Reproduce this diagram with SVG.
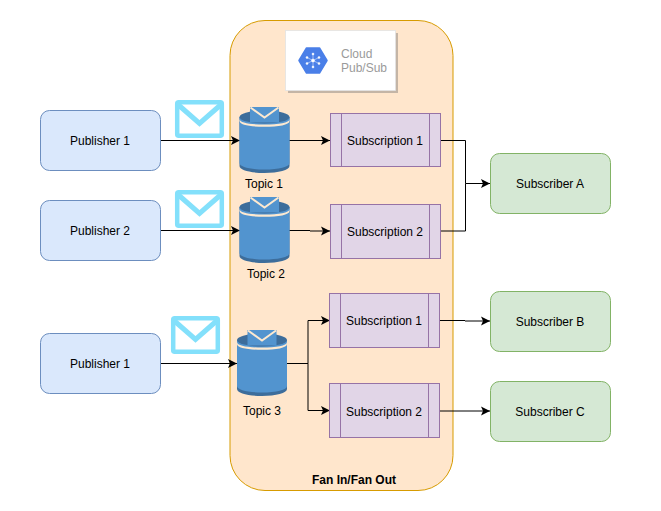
<svg xmlns="http://www.w3.org/2000/svg" width="661" height="511" viewBox="0 0 661 511">
<style>
text{font-family:"Liberation Sans",Arial,sans-serif;font-size:12px;fill:#000;text-anchor:middle}
.pub{fill:#dae8fc;stroke:#6c8ebf}
.sub{fill:#e1d5e7;stroke:#9673a6}
.rcv{fill:#d5e8d4;stroke:#82b366}
.c{fill:none;stroke:#000;stroke-width:1}
.mailbg{fill:#fff;stroke:#83e0fb;stroke-width:4.500}
.mailv{fill:none;stroke:#83e0fb;stroke-width:5}
</style>
<defs>
<marker id="a" markerUnits="userSpaceOnUse" markerWidth="12" markerHeight="12" refX="10" refY="6" orient="auto"><path d="M1 1.500L10 6L1 10.500L3 6Z" fill="#000"/></marker>
<g id="mail"><rect x="2.200" y="2.200" width="44.600" height="33.600" rx="1.500" class="mailbg"/><path d="M3.500 5L24.500 23.500L45.500 5" class="mailv"/></g>
<g id="cyl">
<path d="M0 10V59C0 63 11 66 25 66S50 63 50 59V10Z" fill="#3d6d9b"/>
<path d="M0 10V56C0 60 11 62.500 25 62.500S50 60 50 56V10Z" fill="#5294cf"/>
<ellipse cx="25" cy="10" rx="25" ry="6.500" fill="#3d6d9b"/>
<path d="M0 12C0 16 11 17.500 25 17.500S50 16 50 12V14C50 18 39 19.800 25 19.800S0 18 0 14Z" fill="#fde9d0"/>
<path d="M10.500 0H39.500L39.500 15.500H10.500Z" fill="#5294cf"/>
<path d="M11 0.500L25 10.500L39 0.500" fill="none" stroke="#fde9d0" stroke-width="2"/>
</g>
</defs>
<g id="container"><rect x="230" y="20.500" width="223" height="470" rx="35" fill="#ffe6cc" stroke="#d79b00"/><text x="354" y="484" style="font-weight:bold">Fan In/Fan Out</text></g>
<g id="pubsub-card">
<rect x="288" y="33" width="110" height="60" fill="#c4b5a6"/>
<rect x="285.500" y="30.500" width="110" height="60" fill="#fff" stroke="#e3e3e3" stroke-width="0.800"/>
<path d="M299 60.500L306.500 48H319.500L327 60.500L319.500 73H306.500Z" fill="#4a7fe8" stroke="#4a7fe8" stroke-width="1.500" stroke-linejoin="round"/>
<g stroke="#fff" stroke-width="0.500" fill="#fff"><path d="M313 60.500L307 57.500M313 60.500L319 57.500M313 60.500L307 63.500M313 60.500L319 63.500M313 60.500V54M313 60.500V67"/><circle cx="313" cy="60.500" r="1.500"/><circle cx="313" cy="54" r="1"/><circle cx="313" cy="67" r="1"/><circle cx="307" cy="57.500" r="1"/><circle cx="319" cy="57.500" r="1"/><circle cx="307" cy="63.500" r="1"/><circle cx="319" cy="63.500" r="1"/></g>
<text x="341" y="58" style="text-anchor:start;fill:#9a9a9a">Cloud</text>
<text x="341" y="72" style="text-anchor:start;fill:#9a9a9a">Pub/Sub</text>
</g>
<g id="connectors">
<path class="c" marker-end="url(#a)" d="M160 140.500H240"/>
<path class="c" marker-end="url(#a)" d="M160 230.500H240"/>
<path class="c" marker-end="url(#a)" d="M160 363.500H237"/>
<path class="c" marker-end="url(#a)" d="M289 140.500H330"/>
<path class="c" d="M289 230.500H310"/>
<path class="c" marker-end="url(#a)" d="M310 231H330"/>
<path class="c" marker-end="url(#a)" d="M287 363.500H308V320.500H330"/>
<path class="c" marker-end="url(#a)" d="M308 363.500V410.500H330"/>
<path class="c" marker-end="url(#a)" d="M441 140.500H465.500V183.500H490"/>
<path class="c" d="M441 231H465.500V183.500"/>
<path class="c" d="M440 320.500H465"/>
<path class="c" marker-end="url(#a)" d="M465 321H490"/>
<path class="c" marker-end="url(#a)" d="M440 411H490"/>
</g>
<g id="publisher-1"><rect class="pub" x="40.500" y="110.500" width="120" height="60" rx="9"/><text x="100" y="144.500">Publisher 1</text></g>
<g id="publisher-2"><rect class="pub" x="40.500" y="200.500" width="120" height="60" rx="9"/><text x="100" y="234.500">Publisher 2</text></g>
<g id="publisher-3"><rect class="pub" x="40.500" y="333.500" width="120" height="60" rx="9"/><text x="100" y="367.500">Publisher 1</text></g>
<g id="mail-1"><use href="#mail" x="175" y="100"/></g>
<g id="mail-2"><use href="#mail" x="175" y="190"/></g>
<g id="mail-3"><use href="#mail" x="171" y="316"/></g>
<g id="topic-1"><use href="#cyl" x="239.500" y="107"/><text x="264" y="188">Topic 1</text></g>
<g id="topic-2"><use href="#cyl" x="239.500" y="197"/><text x="266" y="278">Topic 2</text></g>
<g id="topic-3"><use href="#cyl" x="237" y="330"/><text x="262" y="415">Topic 3</text></g>
<g id="subscription-1a"><rect class="sub" x="330.500" y="113.500" width="110" height="53"/><path class="sub" d="M341.500 113.500V166.500M429.500 113.500V166.500"/><text x="385" y="145">Subscription 1</text></g>
<g id="subscription-2a"><rect class="sub" x="330.500" y="204.500" width="110" height="54"/><path class="sub" d="M341.500 204.500V258.500M429.500 204.500V258.500"/><text x="385" y="236">Subscription 2</text></g>
<g id="subscription-1b"><rect class="sub" x="329.500" y="293.500" width="110" height="54"/><path class="sub" d="M340.500 293.500V347.500M428.500 293.500V347.500"/><text x="384" y="325">Subscription 1</text></g>
<g id="subscription-2b"><rect class="sub" x="329.500" y="383.500" width="110" height="54"/><path class="sub" d="M340.500 383.500V437.500M428.500 383.500V437.500"/><text x="384" y="416">Subscription 2</text></g>
<g id="subscriber-a"><rect class="rcv" x="490.500" y="153.500" width="120" height="60" rx="9"/><text x="550" y="188">Subscriber A</text></g>
<g id="subscriber-b"><rect class="rcv" x="490.500" y="291.500" width="120" height="60" rx="9"/><text x="550" y="326">Subscriber B</text></g>
<g id="subscriber-c"><rect class="rcv" x="490.500" y="381.500" width="120" height="60" rx="9"/><text x="550" y="416">Subscriber C</text></g>
</svg>
